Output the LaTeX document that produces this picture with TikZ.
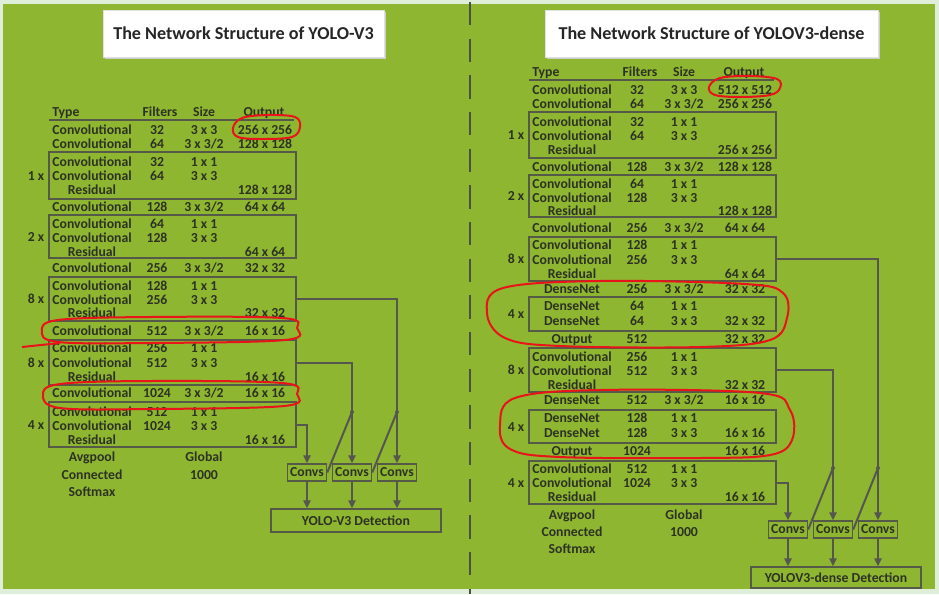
\documentclass[tikz,border=0pt]{standalone}
\usepackage{fontspec}
\setmainfont{Carlito}
\usetikzlibrary{arrows.meta,fit}
\definecolor{bggreen}{RGB}{142,182,48}
\definecolor{frame}{RGB}{222,238,216}
\definecolor{tcol}{RGB}{45,50,35}
\definecolor{bcol}{RGB}{85,90,72}
\definecolor{lcol}{RGB}{85,86,80}
\definecolor{dcol}{RGB}{75,80,70}
\definecolor{redink}{RGB}{232,20,25}
\newcounter{rw}
\newcommand\trow[6]{% offset, y, type, filters, size, output
  \stepcounter{rw}%
  \node[txt] (ty\arabic{rw}) at (#1+92,#2) {#3};
  \node[txt] (fi\arabic{rw}) at (#1+157,#2) {#4};
  \node[txt] (sz\arabic{rw}) at (#1+204,#2) {#5};
  \node[txt] (ou\arabic{rw}) at (#1+265,#2) {#6};}
\newcommand\tbox[5]{% offset, top, bottom, name, label
  \node[blk, fit={(#1+49,#2) (#1+296,#3)}] (#4) {};
  \node[txt] (#4-n) at (#1+36,{(#2+#3)/2}) {#5};}
\newcommand\thead[2]{% offset, y
  \node[txt, anchor=west] (hty#1) at (#1+52,#2) {Type};
  \node[txt] (hfi#1) at (#1+160,#2) {Filters};
  \node[txt] (hsz#1) at (#1+204,#2) {Size};
  \node[txt] (hou#1) at (#1+264,#2) {Output};
  \draw[hline] (#1+49,#2+8) -- (#1+294,#2+8);}
\begin{document}
\begin{tikzpicture}[x=0.75pt,y=-0.75pt,
  txt/.style={font=\fontsize{10.3}{12}\selectfont\bfseries, text=tcol, inner sep=0pt, text height=7pt, text depth=0pt},
  blk/.style={draw=bcol, line width=1.1pt, inner sep=0pt},
  hline/.style={draw=bcol, line width=1.5pt},
  conn/.style={draw=lcol, line width=1.5pt},
  tip/.style={-{Triangle[length=6pt,width=5.5pt]}},
  cbox/.style={draw=bcol, line width=1.1pt, minimum width=29.25pt, minimum height=12.75pt, inner sep=0pt, font=\fontsize{10.3}{12}\selectfont\bfseries, text=tcol},
  detbox/.style={draw=bcol, line width=1.1pt, minimum width=127.5pt, inner sep=0pt, font=\fontsize{10.3}{12}\selectfont\bfseries, text=tcol},
  titlebox/.style={fill=white, draw=black!12, line width=0.4pt, inner sep=0pt, font=\fontsize{13.6}{15}\selectfont\bfseries, text=black!85},
  redmark/.style={draw=redink, line width=1.5pt}]
\useasboundingbox (0,0) rectangle (939,594);
\fill[frame] (0,0) rectangle (939,594);
\fill[bggreen] (3,4) rectangle (935,589);
% divider
\draw[dcol, line width=2.2pt, dash pattern=on 17.5pt off 10pt] (470,2) -- (470,594);
% titles
\fill[black!20] (105,12) rectangle (386,59);
\node[titlebox, minimum width=210.75pt, minimum height=35.25pt] (Ltitle) at (243.5,33.5) {The Network Structure of YOLO-V3};
\fill[black!20] (547,12) rectangle (880,59);
\node[titlebox, minimum width=249.75pt, minimum height=35.25pt] (Rtitle) at (711.5,33.5) {The Network Structure of YOLOV3-dense};
% ---------------- left table
\thead{0}{112}
\tbox{0}{152}{199}{Lb1}{1 x}
\tbox{0}{215}{258}{Lb2}{2 x}
\tbox{0}{277}{321}{Lb3}{8 x}
\tbox{0}{340}{385}{Lb4}{8 x}
\tbox{0}{402}{447}{Lb5}{4 x}
\trow{0}{130}{Convolutional}{32}{3 x 3}{256 x 256}
\trow{0}{144}{Convolutional}{64}{3 x 3/2}{128 x 128}
\trow{0}{162}{Convolutional}{32}{1 x 1}{}
\trow{0}{176}{Convolutional}{64}{3 x 3}{}
\trow{0}{190}{Residual}{}{}{128 x 128}
\trow{0}{207}{Convolutional}{128}{3 x 3/2}{64 x 64}
\trow{0}{224}{Convolutional}{64}{1 x 1}{}
\trow{0}{238}{Convolutional}{128}{3 x 3}{}
\trow{0}{252}{Residual}{}{}{64 x 64}
\trow{0}{268}{Convolutional}{256}{3 x 3/2}{32 x 32}
\trow{0}{286}{Convolutional}{128}{1 x 1}{}
\trow{0}{300}{Convolutional}{256}{3 x 3}{}
\trow{0}{313}{Residual}{}{}{32 x 32}
\trow{0}{331}{Convolutional}{512}{3 x 3/2}{16 x 16}
\trow{0}{348}{Convolutional}{256}{1 x 1}{}
\trow{0}{363}{Convolutional}{512}{3 x 3}{}
\trow{0}{377}{Residual}{}{}{16 x 16}
\trow{0}{393}{Convolutional}{1024}{3 x 3/2}{16 x 16}
\trow{0}{412}{Convolutional}{512}{1 x 1}{}
\trow{0}{426}{Convolutional}{1024}{3 x 3}{}
\trow{0}{440}{Residual}{}{}{16 x 16}
\trow{0}{457}{Avgpool}{}{Global}{}
\trow{0}{475}{Connected}{}{1000}{}
\trow{0}{492}{Softmax}{}{}{}
% left heads
\node[cbox] (Lc1) at (307,472.5) {Convs};
\node[cbox] (Lc2) at (352,472.5) {Convs};
\node[cbox] (Lc3) at (397,472.5) {Convs};
\node[detbox, minimum height=17.25pt] (Ldet) at (356,520.5) {YOLO-V3 Detection};
\draw[conn,tip] (Lb3.east) -| (Lc3.north);
\draw[conn,tip] (Lb4.east) -| (Lc2.north);
\draw[conn,tip] (Lb5.east) -| (Lc1.north);
\coordinate (Ld2) at (352,412);
\coordinate (Ld3) at (397,412);
\draw[conn] (Lc1.east) -- (Ld2);
\draw[conn] (Lc2.east) -- (Ld3);
\fill[lcol] (Ld2) circle (2);
\fill[lcol] (Ld3) circle (2);
\foreach \c in {Lc1,Lc2,Lc3} \draw[conn,tip] (\c.south) -- (\c.south |- Ldet.north);
% ---------------- right table
\thead{480}{72}
\tbox{480}{112}{158}{Rb1}{1 x}
\tbox{480}{175}{217}{Rb2}{2 x}
\tbox{480}{237}{281}{Rb3}{8 x}
\tbox{480}{297}{331}{Rd1}{4 x}
\tbox{480}{348}{392}{Rb4}{8 x}
\tbox{480}{410}{443}{Rd2}{4 x}
\tbox{480}{461}{504}{Rb5}{4 x}
\trow{480}{90}{Convolutional}{32}{3 x 3}{512 x 512}
\trow{480}{104}{Convolutional}{64}{3 x 3/2}{256 x 256}
\trow{480}{122}{Convolutional}{32}{1 x 1}{}
\trow{480}{136}{Convolutional}{64}{3 x 3}{}
\trow{480}{150}{Residual}{}{}{256 x 256}
\trow{480}{167}{Convolutional}{128}{3 x 3/2}{128 x 128}
\trow{480}{184}{Convolutional}{64}{1 x 1}{}
\trow{480}{198}{Convolutional}{128}{3 x 3}{}
\trow{480}{211}{Residual}{}{}{128 x 128}
\trow{480}{228}{Convolutional}{256}{3 x 3/2}{64 x 64}
\trow{480}{245}{Convolutional}{128}{1 x 1}{}
\trow{480}{260}{Convolutional}{256}{3 x 3}{}
\trow{480}{274}{Residual}{}{}{64 x 64}
\trow{480}{289}{DenseNet}{256}{3 x 3/2}{32 x 32}
\trow{480}{306}{DenseNet}{64}{1 x 1}{}
\trow{480}{321}{DenseNet}{64}{3 x 3}{32 x 32}
\trow{480}{339}{Output}{512}{}{32 x 32}
\trow{480}{357}{Convolutional}{256}{1 x 1}{}
\trow{480}{371}{Convolutional}{512}{3 x 3}{}
\trow{480}{385}{Residual}{}{}{32 x 32}
\trow{480}{400}{DenseNet}{512}{3 x 3/2}{16 x 16}
\trow{480}{418}{DenseNet}{128}{1 x 1}{}
\trow{480}{433}{DenseNet}{128}{3 x 3}{16 x 16}
\trow{480}{451}{Output}{1024}{}{16 x 16}
\trow{480}{469}{Convolutional}{512}{1 x 1}{}
\trow{480}{483}{Convolutional}{1024}{3 x 3}{}
\trow{480}{497}{Residual}{}{}{16 x 16}
\trow{480}{515}{Avgpool}{}{Global}{}
\trow{480}{532}{Connected}{}{1000}{}
\trow{480}{549}{Softmax}{}{}{}
% right heads
\node[cbox] (Rc1) at (788,529.5) {Convs};
\node[cbox] (Rc2) at (833,529.5) {Convs};
\node[cbox] (Rc3) at (878,529.5) {Convs};
\node[detbox, minimum height=15.75pt] (Rdet) at (836,577.5) {YOLOV3-dense Detection};
\draw[conn,tip] (Rb3.east) -| (Rc3.north);
\draw[conn,tip] (Rb4.east) -| (Rc2.north);
\draw[conn,tip] (Rb5.east) -| (Rc1.north);
\coordinate (Rd2p) at (833,468);
\coordinate (Rd3p) at (878,468);
\draw[conn] (Rc1.east) -- (Rd2p);
\draw[conn] (Rc2.east) -- (Rd3p);
\fill[lcol] (Rd2p) circle (2);
\fill[lcol] (Rd3p) circle (2);
\foreach \c in {Rc1,Rc2,Rc3} \draw[conn,tip] (\c.south) -- (\c.south |- Rdet.north);
% ---------------- red annotations
\draw[redmark] plot[smooth cycle, tension=0.6] coordinates {(233,128) (242,118) (268,115) (295,117) (300,127) (292,137) (262,139) (238,137)};
\draw[redmark] plot[smooth cycle, tension=0.6] coordinates {(42,331) (58,320) (150,317) (282,318) (297,328) (285,340) (150,343) (58,342)};
\draw[redmark] (22,347) -- (60,343);
\draw[redmark] plot[smooth cycle, tension=0.6] coordinates {(43,395) (60,384) (150,381) (282,383) (297,394) (284,406) (150,409) (60,408)};
\draw[redmark] plot[smooth cycle, tension=0.6] coordinates {(709,87) (720,78) (750,76) (777,79) (780,88) (770,95) (740,97) (715,95)};
\draw[redmark] plot[smooth cycle, tension=0.6] coordinates {(487,313) (503,288) (600,281) (745,284) (783,293) (787,318) (770,340) (700,347) (560,346) (505,338)};
\draw[redmark] plot[smooth cycle, tension=0.6] coordinates {(500,425) (515,398) (600,390) (760,393) (790,410) (792,440) (770,455) (700,458) (560,457) (510,449)};
\end{tikzpicture}
\end{document}
